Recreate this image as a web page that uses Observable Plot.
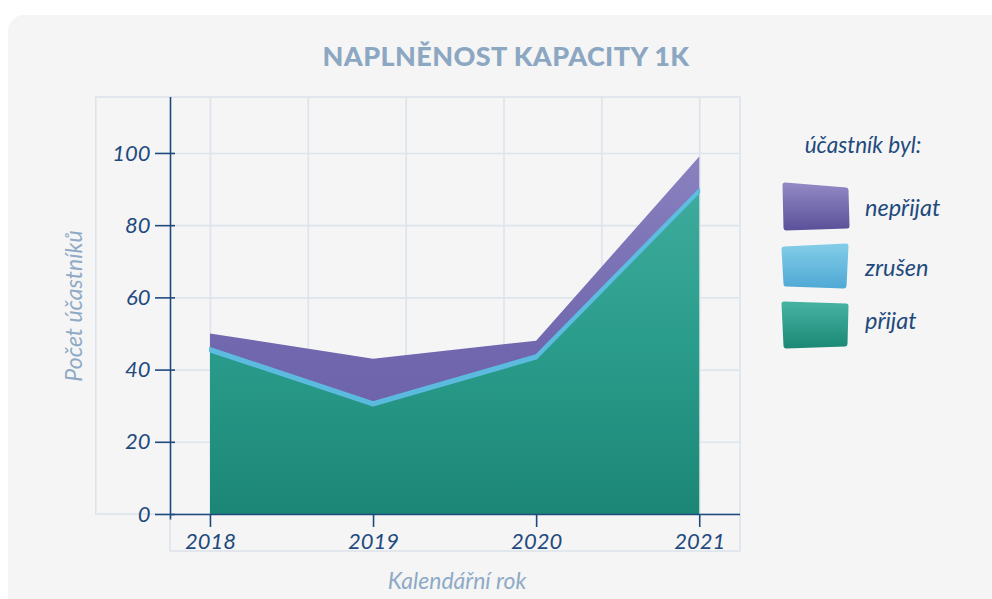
<!DOCTYPE html>
<html><head><meta charset="utf-8">
<script src="https://cdn.jsdelivr.net/npm/d3@7"></script>
<script src="https://cdn.jsdelivr.net/npm/@observablehq/plot@0.6"></script>
<style>
html,body{margin:0;padding:0;background:#fff;}
body{width:992px;height:599px;overflow:hidden;position:relative;font-family:Lato,"Open Sans",sans-serif;}
#card{position:absolute;left:8px;top:15px;width:1010px;height:620px;background:#f5f5f5;border-radius:16px;}
#chart{position:absolute;left:0;top:0;}
#overlay{position:absolute;left:0;top:0;pointer-events:none;}
</style>
</head><body>
<div id="card"></div>
<div id="chart"></div>
<svg id="overlay" width="992" height="599"></svg>
<script>
// ---- data ----
const years = [2018, 2019, 2020, 2021];
const prijat = [45, 30, 43, 89];
const zrusen = [1, 1, 1, 1];
const neprijat = [4, 12, 4, 9];
const statuses = ["přijat", "zrušen", "nepřijat"];
const legendOrder = ["nepřijat", "zrušen", "přijat"];
const yTicks = [0, 20, 40, 60, 80, 100];
const gridX = [2018, 2018.6, 2019.2, 2019.8, 2020.4, 2021];
const titleText = "NAPLNĚNOST KAPACITY 1K";
const yLabel = "Počet účastníků";
const xLabel = "Kalendářní rok";
const legendTitle = "účastník byl:";

const table = years.flatMap((year, i) => [
  {year, status: "přijat", value: prijat[i]},
  {year, status: "zrušen", value: zrusen[i]},
  {year, status: "nepřijat", value: neprijat[i]}
]);

// ---- layout / style ----
const fillOf = {"přijat": "url(#gPrijat)", "zrušen": "url(#gZrusen)", "nepřijat": "url(#gNeprijat)"};
const strokeOf = {"přijat": "none", "zrušen": "#5cbbe0", "nepřijat": "#6a60a9"};
const strokeWOf = {"přijat": 0, "zrušen": 1.8, "nepřijat": 1};
const xMin = 2017.755, xMax = 2021.25, panelX0 = 2017.30, yMax = 115.5, boxBottom = -10.25;
const gridColor = "#dde4ec";
const axisColor = "#1f4a7e";

const chart = Plot.plot({
  width: 992, height: 599,
  marginLeft: 170, marginRight: 252, marginTop: 97, marginBottom: 85,
  x: {domain: [xMin, xMax]},
  y: {domain: [0, yMax]},
  color: {type: "identity"},
  style: "background:transparent;overflow:visible;font-family:Lato,'Open Sans',sans-serif;font-size:21px;font-style:italic;",
  marks: [
    Plot.rect([0], {x1: panelX0, x2: xMax, y1: 0, y2: yMax, fill: "none", stroke: gridColor, strokeWidth: 1.6}),
    Plot.rect([0], {x1: xMin, x2: xMax, y1: boxBottom, y2: 0, fill: "none", stroke: gridColor, strokeWidth: 1.6}),
    Plot.ruleY(yTicks.slice(1), {stroke: gridColor, strokeWidth: 1.6}),
    Plot.ruleX(gridX, {y1: 0, y2: yMax, stroke: gridColor, strokeWidth: 1.6}),
    Plot.areaY(table, {x: "year", y: "value", z: "status", fill: d => fillOf[d.status], order: statuses, curve: "linear"}),
    Plot.areaY(table.filter(d => d.status === "zrušen"), {x: "year", y1: (d, i) => prijat[i], y2: (d, i) => prijat[i] + zrusen[i], fill: "none", stroke: strokeOf["zrušen"], strokeWidth: strokeWOf["zrušen"]}),
    Plot.ruleX([xMin], {y1: -1.5, y2: yMax, stroke: axisColor, strokeWidth: 1.6}),
    Plot.ruleY([0], {stroke: axisColor, strokeWidth: 1.6}),
    Plot.ruleY(yTicks, {x1: xMin, x2: xMin, insetLeft: -15, insetRight: -5, stroke: axisColor, strokeWidth: 1.6}),
    Plot.axisY(yTicks, {tickSize: 0, tickPadding: 20, color: axisColor, label: null, fontSize: 22}),
    Plot.axisX(years, {tickSize: 13, tickPadding: 6, color: axisColor, label: null, fontSize: 22, strokeWidth: 1.6, tickFormat: d => String(d)})
  ]
});

const defs = document.createElementNS("http://www.w3.org/2000/svg", "defs");
defs.innerHTML = `
  <linearGradient id="gPrijat" gradientUnits="userSpaceOnUse" x1="0" y1="97" x2="0" y2="514">
    <stop offset="0" stop-color="#4ab4a6"/><stop offset="0.6" stop-color="#2a9c8b"/><stop offset="1" stop-color="#1c8676"/>
  </linearGradient>
  <linearGradient id="gZrusen" gradientUnits="userSpaceOnUse" x1="0" y1="97" x2="0" y2="514">
    <stop offset="0" stop-color="#72c9e4"/><stop offset="1" stop-color="#52b2da"/>
  </linearGradient>
  <linearGradient id="gNeprijat" gradientUnits="userSpaceOnUse" x1="0" y1="97" x2="0" y2="514">
    <stop offset="0" stop-color="#9189c5"/><stop offset="0.6" stop-color="#7167ae"/><stop offset="1" stop-color="#6a5fa8"/>
  </linearGradient>`;
chart.insertBefore(defs, chart.firstChild);
document.getElementById("chart").appendChild(chart);

// ---- overlay: title, axis labels, legend ----
const ov = d3.select("#overlay");
const odefs = ov.append("defs");
const swGrad = {
  "nepřijat": ["#9087c3", "#5d539b"],
  "zrušen": ["#80cbe7", "#52aad6"],
  "přijat": ["#45b2a1", "#1d8977"]
};
legendOrder.forEach((s, i) => {
  const g = odefs.append("linearGradient").attr("id", "sw" + i).attr("x1", 0).attr("y1", 0).attr("x2", 0).attr("y2", 1);
  g.append("stop").attr("offset", 0).attr("stop-color", swGrad[s][0]);
  g.append("stop").attr("offset", 1).attr("stop-color", swGrad[s][1]);
});

ov.append("text").attr("x", 506).attr("y", 66).attr("text-anchor", "middle")
  .attr("font-family", "Lato, 'Open Sans', sans-serif").attr("font-weight", 900).attr("font-size", 27)
  .attr("letter-spacing", 0.4).attr("fill", "#8ca7c2").text(titleText);

ov.append("text").attr("transform", "translate(82,306) rotate(-90)").attr("text-anchor", "middle")
  .attr("font-family", "Lato, 'Open Sans', sans-serif").attr("font-style", "italic").attr("font-size", 23)
  .attr("fill", "#8eaac6").text(yLabel);

ov.append("text").attr("x", 457).attr("y", 589).attr("text-anchor", "middle")
  .attr("font-family", "Lato, 'Open Sans', sans-serif").attr("font-style", "italic").attr("font-size", 23)
  .attr("fill", "#8eaac6").text(xLabel);

ov.append("text").attr("x", 863).attr("y", 153).attr("text-anchor", "middle")
  .attr("font-family", "Lato, 'Open Sans', sans-serif").attr("font-style", "italic").attr("font-size", 22.5)
  .attr("fill", "#1f4a7c").text(legendTitle);

const swShapes = [
  [[785,185],[846,190],[847,226],[786,228]],
  [[784,249],[846,246],[844,286],[786,284]],
  [[784,304],[846,306],[845,344],[786,346]]
];
const labelY = [216, 276, 329];
legendOrder.forEach((s, i) => {
  const pts = swShapes[i];
  ov.append("path").attr("d", "M" + pts.map(p => p.join(",")).join("L") + "Z")
    .attr("fill", `url(#sw${i})`).attr("stroke", `url(#sw${i})`).attr("stroke-width", 5).attr("stroke-linejoin", "round");
  ov.append("text").attr("x", 865).attr("y", labelY[i])
    .attr("font-family", "Lato, 'Open Sans', sans-serif").attr("font-style", "italic").attr("font-size", 23.5)
    .attr("fill", "#1f4a7c").text(s);
});
</script>
</body></html>
